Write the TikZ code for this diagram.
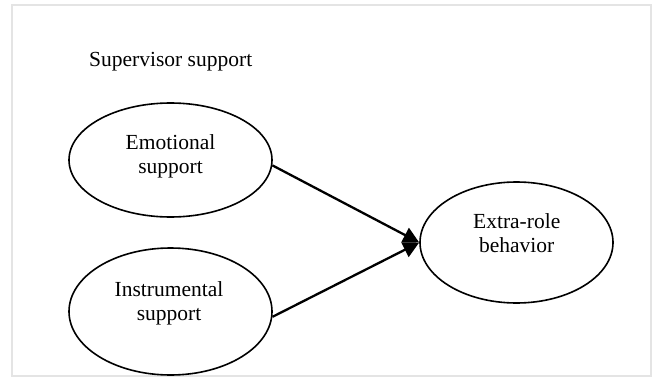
\documentclass[tikz,border=0pt]{standalone}
\usepackage{fontspec}
\setmainfont{Liberation Serif}
\usetikzlibrary{shapes.geometric,arrows.meta}
\definecolor{framegray}{HTML}{E4E4E4}
\tikzset{
  oval/.style={ellipse, draw=black, line width=1.6pt, inner sep=0pt},
  lbl/.style={align=center, font=\fontsize{21.5}{24}\selectfont, inner sep=0pt},
  conn/.style={draw=black, line width=2.3pt, -{Triangle[length=16pt,width=16pt]}}
}
\begin{document}
\begin{tikzpicture}[x=1pt,y=-1pt]
\useasboundingbox (0,0) rectangle (652,377);
\draw[framegray, line width=2pt] (12,5) rectangle (651,376);
\node[lbl, anchor=base west] (title) at (89,67) {Supervisor support};
\node[oval, minimum width=203pt, minimum height=114pt] (emot) at (170.5,160) {};
\node[oval, minimum width=203pt, minimum height=127pt] (instr) at (170.5,311.5) {};
\node[oval, minimum width=193pt, minimum height=121pt] (extra) at (516.5,242.5) {};
\node[lbl] (emott) at (170.5,156.3) {Emotional\\support};
\node[lbl] (instrt) at (169,303.3) {Instrumental\\support};
\node[lbl] (extrat) at (516.7,233.3) {Extra-role\\behavior};
\draw[conn] (emot.-3.5) -- (extra.west);
\draw[conn] (instr.-3) -- (extra.west);
\end{tikzpicture}
\end{document}
